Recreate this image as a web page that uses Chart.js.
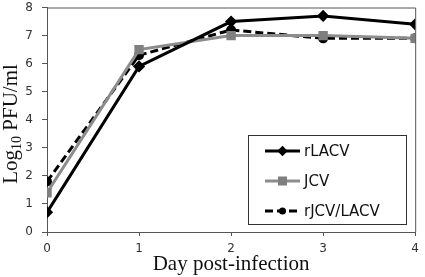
<!doctype html>
<html>
<head>
	<title>Virus growth curves</title>
	<script src="https://cdn.jsdelivr.net/npm/chart.js@4/dist/chart.umd.min.js"></script>
	<style>
		html, body { margin: 0; padding: 0; background: #fff; }
		#holder { width: 425px; height: 277px; }
	</style>
</head>
<body>
	<div id="holder"><canvas id="chart" width="425" height="277"></canvas></div>
	<script>
		var days = [0, 1, 2, 3, 4];
		var rLACV = [0.7, 5.9, 7.5, 7.7, 7.4];
		var JCV = [1.4, 6.5, 7.0, 7.0, 6.9];
		var rJCVLACV = [1.8, 6.3, 7.2, 6.9, 6.9];
		var yTicks = [0, 1, 2, 3, 4, 5, 6, 7, 8];

		// frame around the plot, y title with subscript, boxed legend inside the plot
		var extras = {
			id: 'extras',
			afterDraw: function(chart) {
				var ctx = chart.ctx;
				var a = chart.chartArea;
				ctx.save();
				ctx.strokeStyle = '#555';
				ctx.lineWidth = 1;
				ctx.beginPath();
				ctx.moveTo(a.left, a.top + 0.5);
				ctx.lineTo(a.right + 0.5, a.top + 0.5);
				ctx.lineTo(a.right + 0.5, a.bottom);
				ctx.stroke();

				// y title
				ctx.translate(11, 124);
				ctx.rotate(-Math.PI / 2);
				ctx.fillStyle = '#111';
				ctx.textBaseline = 'alphabetic';
				var big = '21px "Liberation Serif", serif';
				var small = '14px "Liberation Serif", serif';
				ctx.font = big;
				var w1 = ctx.measureText('Log').width;
				var w3 = ctx.measureText(' PFU/ml').width;
				ctx.font = small;
				var w2 = ctx.measureText('10').width;
				var x = -(w1 + w2 + w3) / 2;
				ctx.font = big;
				ctx.fillText('Log', x, 6);
				ctx.font = small;
				ctx.fillText('10', x + w1, 10);
				ctx.font = big;
				ctx.fillText(' PFU/ml', x + w1 + w2, 6);
				ctx.restore();

				// legend
				ctx.save();
				var bx = 248, by = 135, bw = 158, bh = 89;
				ctx.fillStyle = '#fff';
				ctx.fillRect(bx, by, bw, bh);
				ctx.strokeStyle = '#333';
				ctx.lineWidth = 1;
				ctx.strokeRect(bx + 0.5, by + 0.5, bw, bh);
				ctx.font = '15px "DejaVu Sans", sans-serif';
				ctx.textBaseline = 'middle';
				chart.data.datasets.forEach(function(ds, i) {
					var ly = by + 16 + i * 30;
					ctx.strokeStyle = ds.borderColor;
					ctx.lineWidth = ds.borderWidth;
					ctx.setLineDash(ds.borderDash || []);
					ctx.beginPath();
					ctx.moveTo(265, ly);
					ctx.lineTo(300, ly);
					ctx.stroke();
					ctx.setLineDash([]);
					ctx.fillStyle = ds.pointBackgroundColor;
					var r = ds.pointRadius;
					if (ds.pointStyle === 'rect') {
						ctx.fillRect(282.5 - r, ly - r, 2 * r, 2 * r);
					} else if (ds.pointStyle === 'rectRot') {
						ctx.beginPath();
						ctx.moveTo(282.5, ly - r * 1.3);
						ctx.lineTo(282.5 + r * 1.3, ly);
						ctx.lineTo(282.5, ly + r * 1.3);
						ctx.lineTo(282.5 - r * 1.3, ly);
						ctx.closePath();
						ctx.fill();
					} else {
						ctx.beginPath();
						ctx.arc(282.5, ly, r, 0, Math.PI * 2);
						ctx.fill();
					}
					ctx.fillStyle = '#111';
					ctx.fillText(ds.label, 304, ly + 1);
				});
				ctx.restore();
			}
		};

		window.onload = function() {
			new Chart(document.getElementById('chart'), {
				type: 'line',
				data: {
					labels: days,
					datasets: [{
						label: 'rLACV',
						data: rLACV,
						borderColor: '#000',
						pointBackgroundColor: '#000',
						pointBorderColor: '#000',
						borderWidth: 3,
						pointStyle: 'rectRot',
						pointRadius: 4
					}, {
						label: 'JCV',
						data: JCV,
						borderColor: '#8c8c8c',
						pointBackgroundColor: '#7f7f7f',
						pointBorderColor: '#7f7f7f',
						borderWidth: 3,
						pointStyle: 'rect',
						pointRadius: 4.5
					}, {
						label: 'rJCV/LACV',
						data: rJCVLACV,
						borderColor: '#000',
						pointBackgroundColor: '#000',
						pointBorderColor: '#000',
						borderWidth: 3,
						borderDash: [8, 4],
						pointStyle: 'circle',
						pointRadius: 3.5
					}]
				},
				options: {
					responsive: false,
					animation: false,
					layout: { padding: { top: 4, right: 8, left: 0, bottom: 0 } },
					elements: { line: { tension: 0, fill: false } },
					plugins: {
						legend: { display: false },
						tooltip: { enabled: false }
					},
					scales: {
						x: {
							type: 'linear',
							min: 0,
							max: 4,
							afterBuildTicks: function(scale) {
								scale.ticks = days.map(function(d) { return { value: d }; });
							},
							afterFit: function(scale) { scale.height = 45; },
							grid: { drawOnChartArea: false, tickLength: 4, color: '#555' },
							border: { color: '#555', width: 1 },
							ticks: {
								color: '#333',
								padding: 6,
								maxRotation: 0,
								font: { family: '"DejaVu Sans", sans-serif', size: 12 }
							},
							title: {
								display: true,
								text: 'Day post-infection',
								color: '#111',
								padding: { top: 0, bottom: 0 },
								font: { family: '"Liberation Serif", serif', size: 21 }
							}
						},
						y: {
							min: 0,
							max: 8,
							afterBuildTicks: function(scale) {
								scale.ticks = yTicks.map(function(v) { return { value: v }; });
							},
							afterFit: function(scale) {
								scale.width = 47;
								scale.paddingTop = 0;
							},
							grid: { drawOnChartArea: false, tickLength: 5, color: '#555' },
							border: { color: '#555', width: 1 },
							ticks: {
								color: '#333',
								padding: 9,
								font: { family: '"DejaVu Sans", sans-serif', size: 12 }
							}
						}
					}
				},
				plugins: [extras]
			});
		};
	</script>
</body>
</html>
